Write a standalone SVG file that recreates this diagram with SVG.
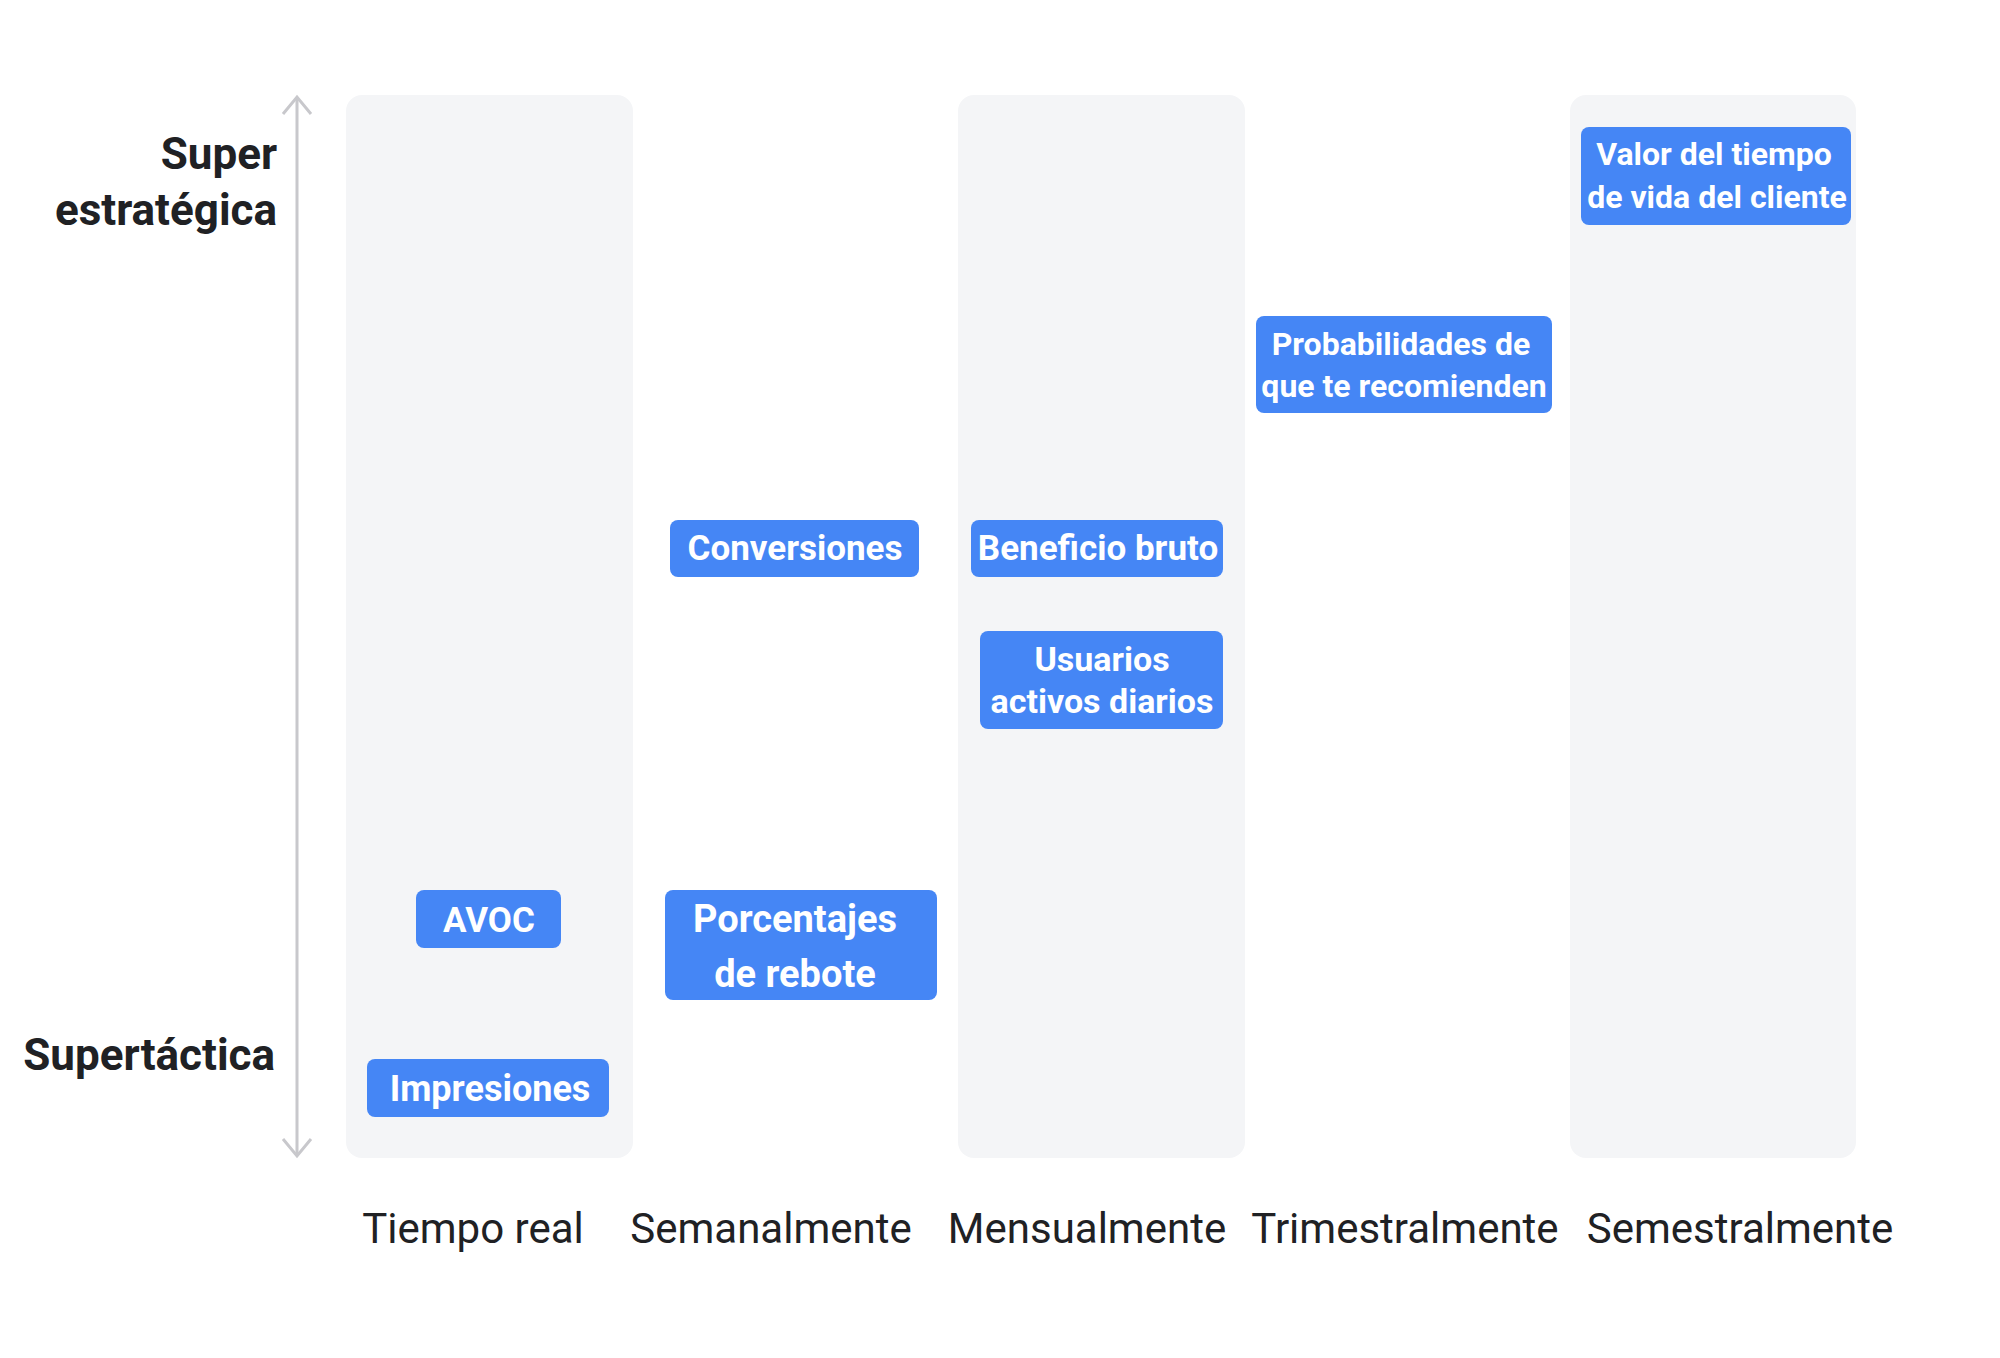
<svg xmlns="http://www.w3.org/2000/svg" width="2000" height="1358" viewBox="0 0 2000 1358">
<style>
.col{fill:#f4f5f7}
.box{fill:#4586f5}
.bt{font-family:Roboto,"Liberation Sans",sans-serif;font-weight:bold;fill:#fff;text-anchor:middle}
.ax{font-family:Roboto,"Liberation Sans",sans-serif;font-weight:bold;fill:#202124;font-size:44px;text-anchor:end}
.lb{font-family:Roboto,"Liberation Sans",sans-serif;fill:#202124;font-size:42px;text-anchor:middle}
</style>
<rect width="2000" height="1358" fill="#fff"/>
<g id="columns">
<rect class="col" x="346" y="95" width="287" height="1063" rx="16"/>
<rect class="col" x="958" y="95" width="287" height="1063" rx="16"/>
<rect class="col" x="1570" y="95" width="286" height="1063" rx="16"/>
</g>
<g id="connectors" stroke="#c8c8cc" stroke-width="3" fill="none">
<line x1="297" y1="97" x2="297" y2="1156"/>
<polyline points="283,114 297,97 311,114"/>
<polyline points="283,1139 297,1156 311,1139"/>
</g>
<g id="axis-labels">
<text class="ax" x="277" y="169">Super</text>
<text class="ax" x="277" y="225">estratégica</text>
<text class="ax" x="275" y="1070">Supertáctica</text>
</g>
<g id="n-conversiones"><rect class="box" x="670" y="520" width="249" height="57" rx="8"/><text class="bt" x="795" y="560" font-size="35">Conversiones</text></g>
<g id="n-beneficio"><rect class="box" x="971" y="520" width="252" height="57" rx="8"/><text class="bt" x="1098" y="560" font-size="35">Beneficio bruto</text></g>
<g id="n-usuarios"><rect class="box" x="980" y="631" width="243" height="98" rx="8"/><text class="bt" x="1102" y="671" font-size="34">Usuarios</text><text class="bt" x="1102" y="713" font-size="34">activos diarios</text></g>
<g id="n-probabilidades"><rect class="box" x="1256" y="316" width="296" height="97" rx="8"/><text class="bt" x="1401" y="355" font-size="32">Probabilidades de</text><text class="bt" x="1404" y="397" font-size="32">que te recomienden</text></g>
<g id="n-valor"><rect class="box" x="1581" y="127" width="270" height="98" rx="8"/><text class="bt" x="1714" y="165" font-size="32">Valor del tiempo</text><text class="bt" x="1717" y="208" font-size="32">de vida del cliente</text></g>
<g id="n-avoc"><rect class="box" x="416" y="890" width="145" height="58" rx="8"/><text class="bt" x="489" y="932" font-size="35">AVOC</text></g>
<g id="n-porcentajes"><rect class="box" x="665" y="890" width="272" height="110" rx="8"/><text class="bt" x="795" y="932" font-size="38">Porcentajes</text><text class="bt" x="795" y="987" font-size="38">de rebote</text></g>
<g id="n-impresiones"><rect class="box" x="367" y="1059" width="242" height="58" rx="8"/><text class="bt" x="490" y="1101" font-size="36">Impresiones</text></g>
<g id="x-labels">
<text class="lb" x="473" y="1243">Tiempo real</text>
<text class="lb" x="771" y="1243">Semanalmente</text>
<text class="lb" x="1087" y="1243">Mensualmente</text>
<text class="lb" x="1405" y="1243">Trimestralmente</text>
<text class="lb" x="1740" y="1243">Semestralmente</text>
</g>
</svg>
